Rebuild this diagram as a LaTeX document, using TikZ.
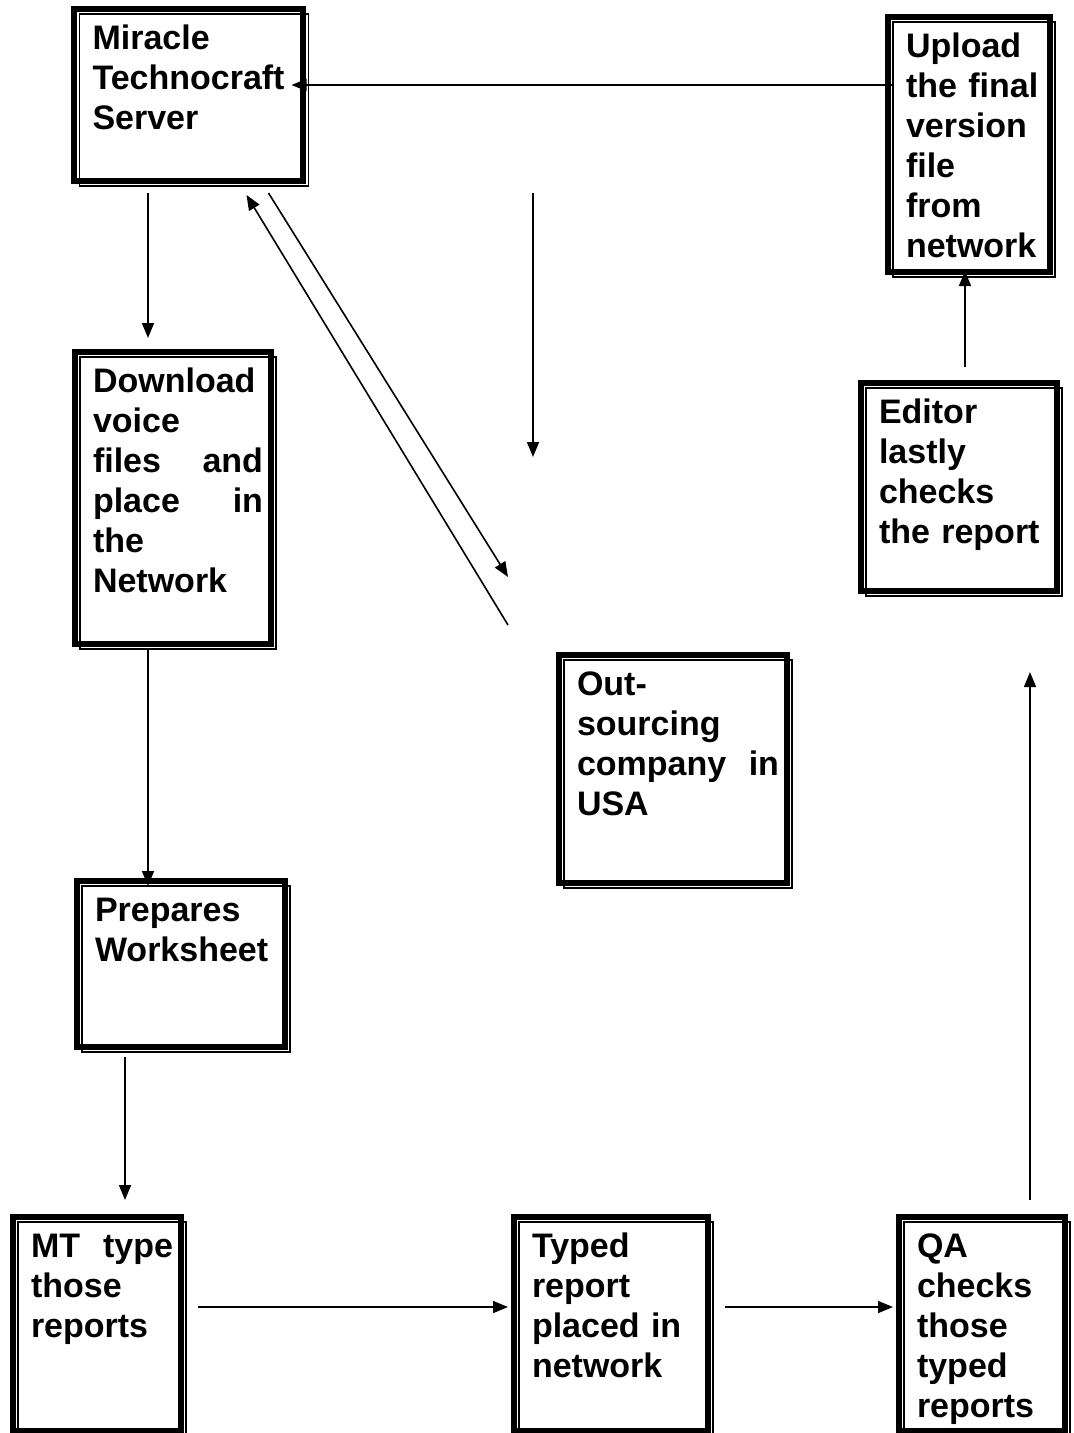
\documentclass[tikz,border=0pt]{standalone}
\usepackage{fontspec}
\setmainfont{Liberation Sans}
\usetikzlibrary{arrows.meta,positioning,calc}
\newcommand{\boxfont}{\fontsize{34}{40}\selectfont\bfseries}

\begin{document}
\begin{tikzpicture}[
  x=1pt, y=-1pt,
  proc/.style={draw, line width=1.5pt, outer sep=0pt, inner xsep=13pt, inner ysep=11pt,
               text height=24pt, align=left, font=\boxfont},
  frame/.style={draw, line width=6pt},
  arrow/.style={-{Triangle[length=15pt,width=12pt]}, line width=1.6pt},
]
  \path[use as bounding box, fill=white] (0,0) rectangle (1074,1433);

  \node[proc, text width=203pt, text depth=126pt] (server) at (194,100) {Miracle\\Technocraft\\Server};
  \node[proc, text width=170pt, text depth=246pt] (download) at (178,503)
    {Download\\voice\\files\hfill and\\place\hfill in\\the\\Network};
  \node[proc, text width=182pt, text depth=120pt] (prepares) at (186,969) {Prepares\\Worksheet};
  \node[proc, text width=142pt, text depth=168pt] (mt) at (102,1329) {MT\hfill type\\those\\reports};
  \node[proc, text width=168pt, text depth=168pt] (typed) at (616,1329) {Typed\\report\\placed in\\network};
  \node[proc, text width=140pt, text depth=168pt] (qa) at (987,1329) {QA\\checks\\those\\typed\\reports};
  \node[proc, text width=202pt, text depth=182pt] (outsrc) at (678,774) {Out-\\sourcing\\company\hfill in\\USA};
  \node[proc, text width=170pt, text depth=162pt] (editor) at (964,492) {Editor\\lastly\\checks\\the report};
  \node[proc, text width=136pt, text depth=209pt] (upload) at (974,149.5)
    {Upload\\the final\\version\\file\\from\\network};

  % thick outer borders
  \foreach \n in {server,download,prepares,mt,typed,qa,outsrc,editor,upload}
    \draw[frame] ([shift={(-5.5,-5.5)}]\n.south west) rectangle ([shift={(-5.5,-5.5)}]\n.north east);

  \coordinate (srvin) at ([shift={(-17,-15)}]server.east);
  \coordinate (midtop) at (533,193);
  \coordinate (midbot) at (533,457);

  \draw[arrow] (upload.west |- srvin) -- (srvin);
  \draw[arrow] ([shift={(-46,7)}]server.south) -- ([shift={(-30,-19)}]download.north);
  \draw[arrow] ([shift={(-30,0)}]download.south) -- ([shift={(-38,0)}]prepares.north);
  \draw[arrow] ([shift={(-61,5)}]prepares.south) -- ([shift={(23,-22)}]mt.north);
  \draw[arrow] ([shift={(12,-22)}]mt.east) -- ([shift={(-11,-22)}]typed.west);
  \draw[arrow] ([shift={(12,-22)}]typed.east) -- ([shift={(-11,-22)}]qa.west);
  \draw[arrow] ([shift={(43,-22)}]qa.north) -- ([shift={(66,76)}]editor.south);
  \draw[arrow] ([shift={(1,-21)}]editor.north) -- ([shift={(-9,-6)}]upload.south);
  \draw[arrow] (midtop) -- (midbot);

  % server <-> outsourcing
  \draw[arrow] ([shift={(-56,-35)}]outsrc.north west) -- ([shift={(-62,9)}]server.south east);
  \draw[arrow] ([shift={(-40,7)}]server.south east) -- ([shift={(-56,-83)}]outsrc.north west);
\end{tikzpicture}
\end{document}
